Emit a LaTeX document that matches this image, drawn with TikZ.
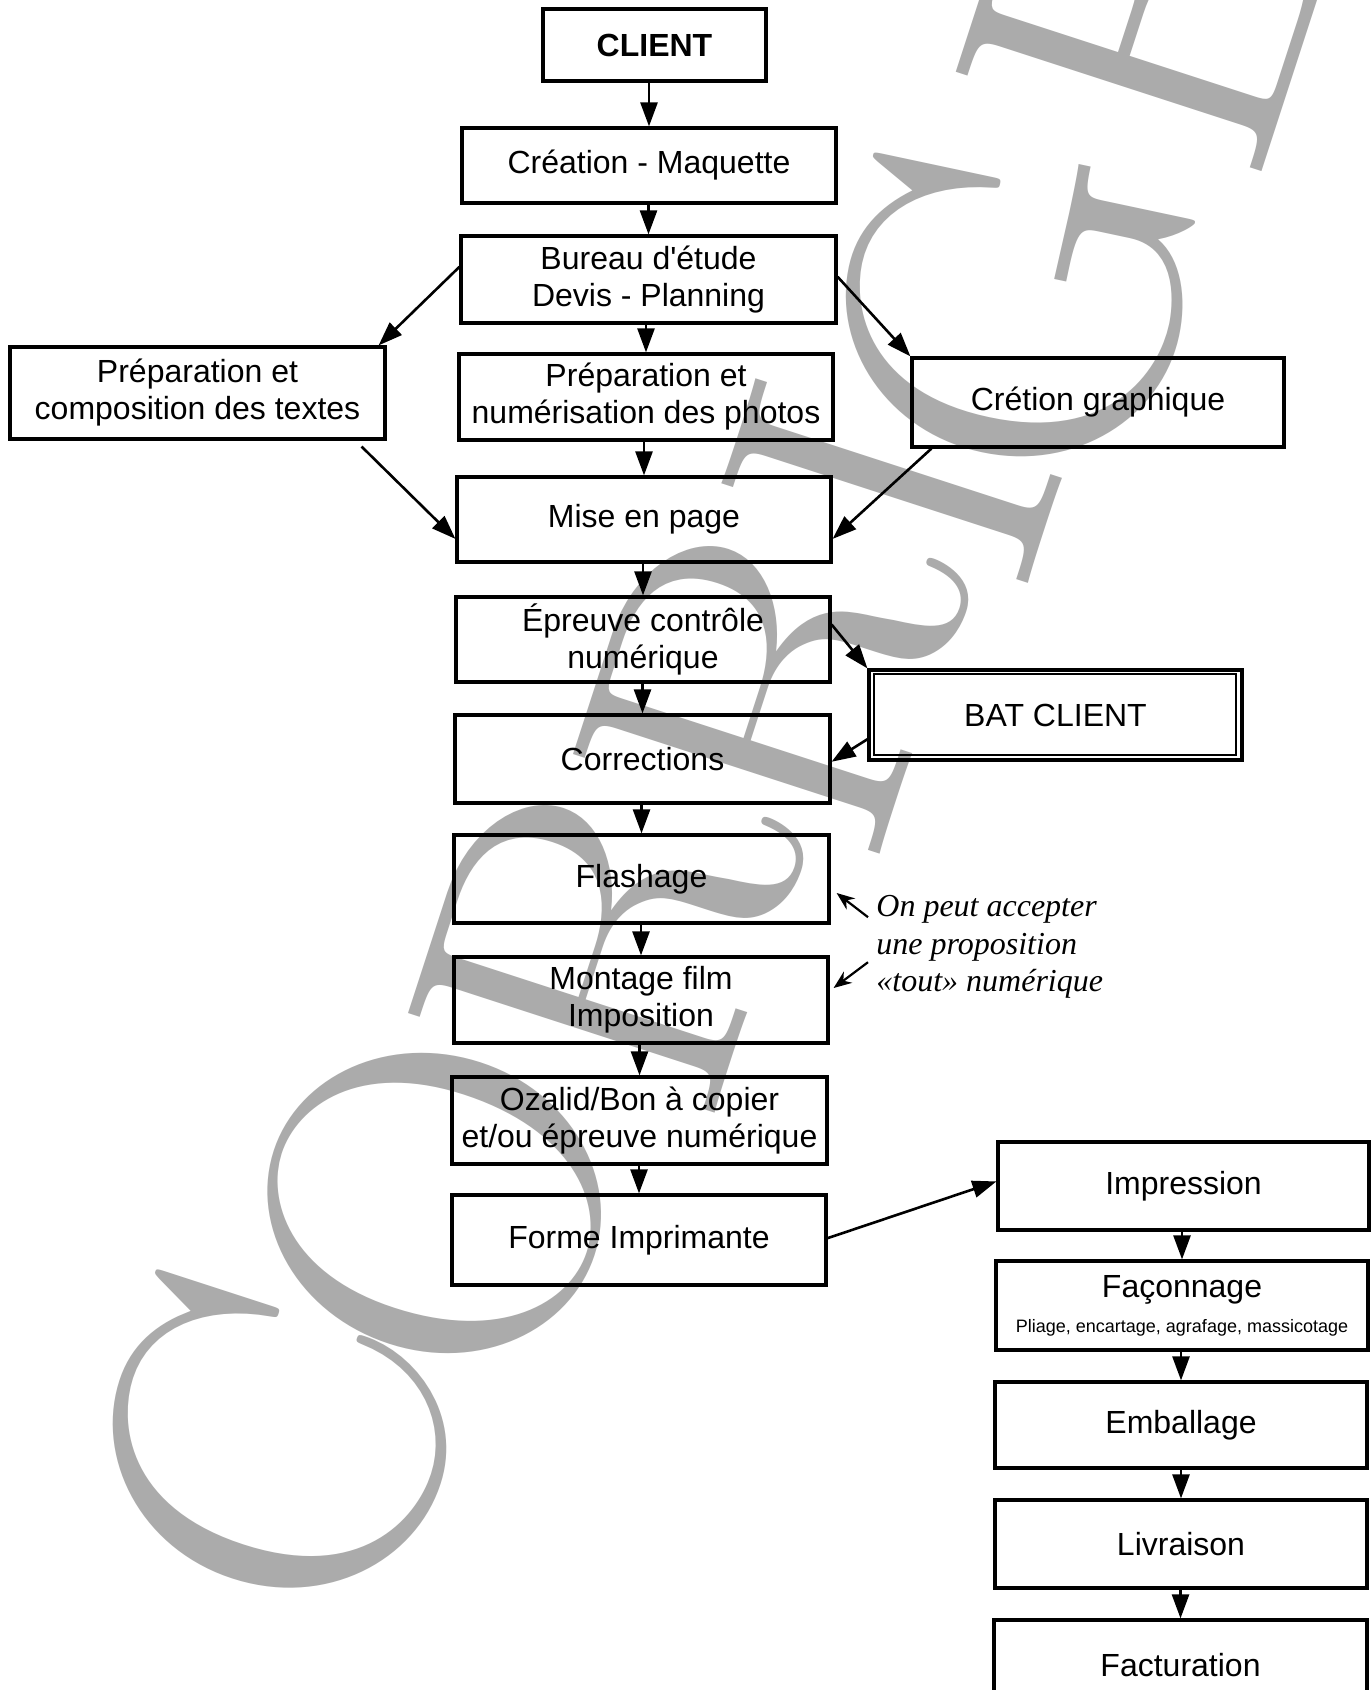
\documentclass[tikz,border=0pt]{standalone}
\usepackage{fontspec}
\newfontfamily\boxfont{Liberation Sans}
\newfontfamily\notefont{Liberation Serif}
\usetikzlibrary{arrows.meta,calc}
\begin{document}
\begin{tikzpicture}[x=0.5pt,y=-0.5pt,
  box/.style={draw, line width=1.6pt, inner sep=0pt, align=center, font=\boxfont\fontsize{16}{18.5}\selectfont},
  arr/.style={line width=1.3pt, -{Triangle[length=12pt,width=8.5pt]}},
  notearr/.style={line width=1.1pt, -{Stealth[length=9pt,width=7pt]}},
  wmark/.style={rotate=72, anchor=base, inner sep=0pt, text=black!33, font=\rmfamily\fontsize{236}{236}\selectfont},
]
\fill[white] (0,0) rectangle (1371,1690);
\useasboundingbox (0,0) rectangle (1371,1690);
% watermark CORRIGÉ
\begin{scope}
\clip (0,0) rectangle (1371,1690);
\node[wmark] (wmC) at (428,1500) {C};
\node[wmark] (wmO) at (588,1253) {O};
\node[wmark] (wmR1) at (757,984) {R};
\node[wmark] (wmR2) at (922,725) {R};
\node[wmark] (wmI) at (1045,531) {I};
\node[wmark, rotate=6] (wmG) at (1171,340) {G};
\node[wmark] (wmE) at (1300,54) {É};
\end{scope}
% boxes
\node[box, minimum width=111.5pt, minimum height=36pt, font=\boxfont\fontsize{16}{18.5}\selectfont\bfseries] (client) at (654.5,45) {CLIENT};
\node[box, minimum width=187pt, minimum height=37.5pt] (crea) at (649,165.5) {Création - Maquette};
\node[box, minimum width=187.5pt, minimum height=43.5pt] (bureau) at (648.5,279.5) {Bureau d'étude\\Devis - Planning};
\node[box, minimum width=187.5pt, minimum height=46pt] (textes) at (197.5,393) {Préparation et\\composition des textes};
\node[box, minimum width=187pt, minimum height=43pt] (photos) at (646,397) {Préparation et\\numérisation des photos};
\node[box, minimum width=186pt, minimum height=44.5pt] (graph) at (1098,402.5) {Crétion graphique};
\node[box, minimum width=187pt, minimum height=42.5pt] (mise) at (644,519.5) {Mise en page};
\node[box, minimum width=187pt, minimum height=42.5pt] (epreuve) at (643,639.5) {Épreuve contrôle\\numérique};
\node[box, minimum width=186.5pt, minimum height=45pt] (bat) at (1055.5,715) {BAT CLIENT};
\draw[line width=1pt] ($(bat.north west)+(7,6)$) rectangle ($(bat.south east)+(-8,-7)$);
\node[box, minimum width=187.5pt, minimum height=44pt] (corr) at (642.5,759) {Corrections};
\node[box, minimum width=187.5pt, minimum height=44pt] (flash) at (641.5,879) {Flashage};
\node[box, minimum width=187pt, minimum height=43pt] (montage) at (641,1000) {Montage film\\Imposition};
\node[box, minimum width=187.5pt, minimum height=43.5pt] (ozalid) at (639.5,1120.5) {Ozalid/Bon à copier\\et/ou épreuve numérique};
\node[box, minimum width=187pt, minimum height=45pt] (forme) at (639,1240) {Forme Imprimante};
\node[box, minimum width=185.5pt, minimum height=44pt] (impr) at (1183.5,1186) {Impression};
\node[box, minimum width=186pt, minimum height=44.5pt] (facon) at (1182,1305.5) {Façonnage\\[-1pt]{\fontsize{9}{10}\selectfont Pliage, encartage, agrafage, massicotage}};
\node[box, minimum width=186pt, minimum height=43pt] (emb) at (1181,1425) {Emballage};
\node[box, minimum width=186pt, minimum height=44pt] (livr) at (1181,1544) {Livraison};
\node[box, minimum width=186.5pt, minimum height=45pt] (fact) at (1180.5,1665) {Facturation};
% note
\node[anchor=west, align=left, inner sep=0pt, font=\notefont\itshape\fontsize{16}{18.7}\selectfont] (note) at (876,947) {On peut accepter\\une proposition\\«tout» numérique};
% vertical arrows
\draw[arr] (crea.north |- client.south) -- (crea.north);
\draw[arr] (bureau.north |- crea.south) -- (bureau.north);
\draw[arr] (photos.north |- bureau.south) -- (photos.north);
\draw[arr] (mise.north |- photos.south) -- (mise.north);
\draw[arr] (epreuve.north |- mise.south) -- (epreuve.north);
\draw[arr] (corr.north |- epreuve.south) -- (corr.north);
\draw[arr] (flash.north |- corr.south) -- (flash.north);
\draw[arr] (montage.north |- flash.south) -- (montage.north);
\draw[arr] (ozalid.north |- montage.south) -- (ozalid.north);
\draw[arr] (forme.north |- ozalid.south) -- (forme.north);
\draw[arr] (facon.north |- impr.south) -- (facon.north);
\draw[arr] (emb.north |- facon.south) -- (emb.north);
\draw[arr] (livr.north |- emb.south) -- (livr.north);
\draw[arr] (fact.north |- livr.south) -- (fact.north);
% diagonal arrows
\draw[arr] ($(bureau.north west)!0.36!(bureau.south west)$) -- ($(textes.north east)+(-8,0)$);
\draw[arr] ($(textes.south east)+(-25,6)$) -- ($(mise.north west)!0.72!(mise.south west)$);
\draw[arr] ($(bureau.north east)!0.47!(bureau.south east)$) -- (graph.north west);
\draw[arr] ($(graph.south west)+(21,0)$) -- ($(mise.north east)!0.72!(mise.south east)$);
\draw[arr] ($(epreuve.north east)!0.33!(epreuve.south east)$) -- (bat.north west);
\draw[arr] ($(bat.north west)!0.76!(bat.south west)$) -- ($(corr.north east)!0.53!(corr.south east)$);
\draw[arr] ($(forme.north east)!0.48!(forme.south east)$) -- ($(impr.north west)!0.45!(impr.south west)$);
% note arrows
\coordinate (n1s) at ($(note.north west)+(-8,22)$);
\coordinate (n1e) at ($(flash.east)+(6,14)$);
\coordinate (n2s) at ($(note.north west)+(-8,67)$);
\coordinate (n2e) at ($(montage.east)+(4,-12)$);
\draw[notearr] (n1s) -- (n1e);
\draw[notearr] (n2s) -- (n2e);
\end{tikzpicture}
\end{document}
